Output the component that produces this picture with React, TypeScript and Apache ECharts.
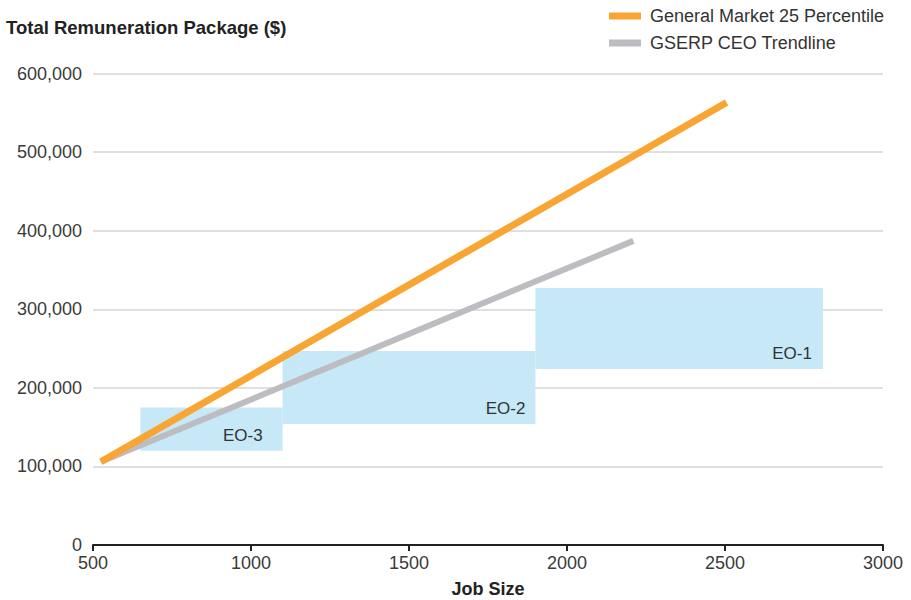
import React, { useEffect, useRef } from "react";
import * as echarts from "echarts";

// Categories / shaded bands (job-size ranges and remuneration ranges)
const eoNames = ["EO-3", "EO-2", "EO-1"];
const eoJobStart = [650, 1100, 1900];
const eoJobEnd = [1100, 1900, 2810];
const eoPayLow = [120000, 154000, 224000];
const eoPayHigh = [175000, 247000, 327000];

// Lines
const marketName = "General Market 25 Percentile";
const marketJob = [525, 2505];
const marketPay = [106000, 563000];

const trendName = "GSERP CEO Trendline";
const trendJob = [525, 2210];
const trendPay = [106000, 387000];

// Axes
const xTicks = [500, 1000, 1500, 2000, 2500, 3000];
const yTicks = [0, 100000, 200000, 300000, 400000, 500000, 600000];

const FONT = '"Liberation Sans", Arial, Helvetica, sans-serif';

export default function App() {
  const ref = useRef<HTMLDivElement>(null);

  useEffect(() => {
    if (!ref.current) return;
    const chart = echarts.init(ref.current, null, { renderer: "svg" });
    const labelPadRight = [20, 10, 11];

    const bandData = eoNames.map((n, i) => [
      eoJobStart[i],
      eoJobEnd[i],
      eoPayLow[i],
      eoPayHigh[i],
      n,
    ]);

    chart.setOption({
      animation: false,
      textStyle: { fontFamily: FONT },
      grid: {
        left: 93,
        right: 28,
        top: 73.5,
        bottom: 55,
        containLabel: false,
        outerBoundsMode: "none",
      },
      legend: {
        orient: "vertical",
        left: 609,
        top: 7,
        padding: 0,
        itemWidth: 32,
        itemHeight: 7,
        itemGap: 9,
        icon: "rect",
        textStyle: { fontSize: 18, color: "#333", fontFamily: FONT, padding: [0, 0, 0, 4] },
        data: [marketName, trendName],
      },
      graphic: [
        {
          type: "text",
          left: 6,
          top: 18,
          style: {
            text: "Total Remuneration Package ($)",
            font: `bold 18.5px ${FONT}`,
            fill: "#222",
          },
        },
      ],
      xAxis: {
        type: "value",
        min: xTicks[0],
        max: xTicks[xTicks.length - 1],
        interval: 500,
        name: "Job Size",
        nameLocation: "middle",
        nameGap: 35,
        nameTextStyle: { fontWeight: "bold", fontSize: 18, color: "#222", fontFamily: FONT },
        axisLine: { show: true, lineStyle: { color: "#222", width: 2 } },
        axisTick: { show: true, length: 6, lineStyle: { color: "#222", width: 2 } },
        axisLabel: {
          fontSize: 18,
          color: "#3a3a3a",
          margin: 9,
          fontFamily: FONT,
          formatter: (v: number) => String(v),
        },
        splitLine: { show: false },
      },
      yAxis: {
        type: "value",
        min: yTicks[0],
        max: yTicks[yTicks.length - 1],
        interval: 100000,
        axisLine: { show: false },
        axisTick: { show: false },
        axisLabel: {
          fontSize: 18,
          color: "#3a3a3a",
          margin: 11,
          fontFamily: FONT,
          formatter: (v: number) => v.toLocaleString("en-US"),
        },
        splitLine: { show: true, lineStyle: { color: "#d4d4d4", width: 1.5 } },
      },
      series: [
        {
          type: "custom",
          name: "bands",
          z: 1,
          data: bandData,
          encode: { x: [0, 1], y: [2, 3] },
          renderItem: (params: any, api: any) => {
            const i = params.dataIndex;
            const p0 = api.coord([api.value(0), api.value(3)]);
            const p1 = api.coord([api.value(1), api.value(2)]);
            return {
              type: "group",
              children: [
                {
                  type: "rect",
                  shape: { x: p0[0], y: p0[1], width: p1[0] - p0[0], height: p1[1] - p0[1] },
                  style: { fill: "#c6e8f7" },
                },
                {
                  type: "text",
                  x: p1[0] - labelPadRight[i],
                  y: p1[1] - 15,
                  style: {
                    text: eoNames[i],
                    font: `17px ${FONT}`,
                    fill: "#333",
                    align: "right",
                    verticalAlign: "middle",
                  },
                },
              ],
            };
          },
        },
        {
          type: "line",
          name: marketName,
          z: 3,
          symbol: "none",
          color: "#f9a533",
          lineStyle: { width: 7, color: "#f9a533", cap: "butt" },
          data: marketJob.map((x, i) => [x, marketPay[i]]),
        },
        {
          type: "line",
          name: trendName,
          z: 2,
          symbol: "none",
          color: "#bdbdc1",
          lineStyle: { width: 6, color: "#bdbdc1", cap: "butt" },
          data: trendJob.map((x, i) => [x, trendPay[i]]),
        },
      ],
    });

    return () => chart.dispose();
  }, []);

  return <div ref={ref} style={{ width: 911, height: 600, position: "absolute", left: 0, top: 0 }} />;
}
